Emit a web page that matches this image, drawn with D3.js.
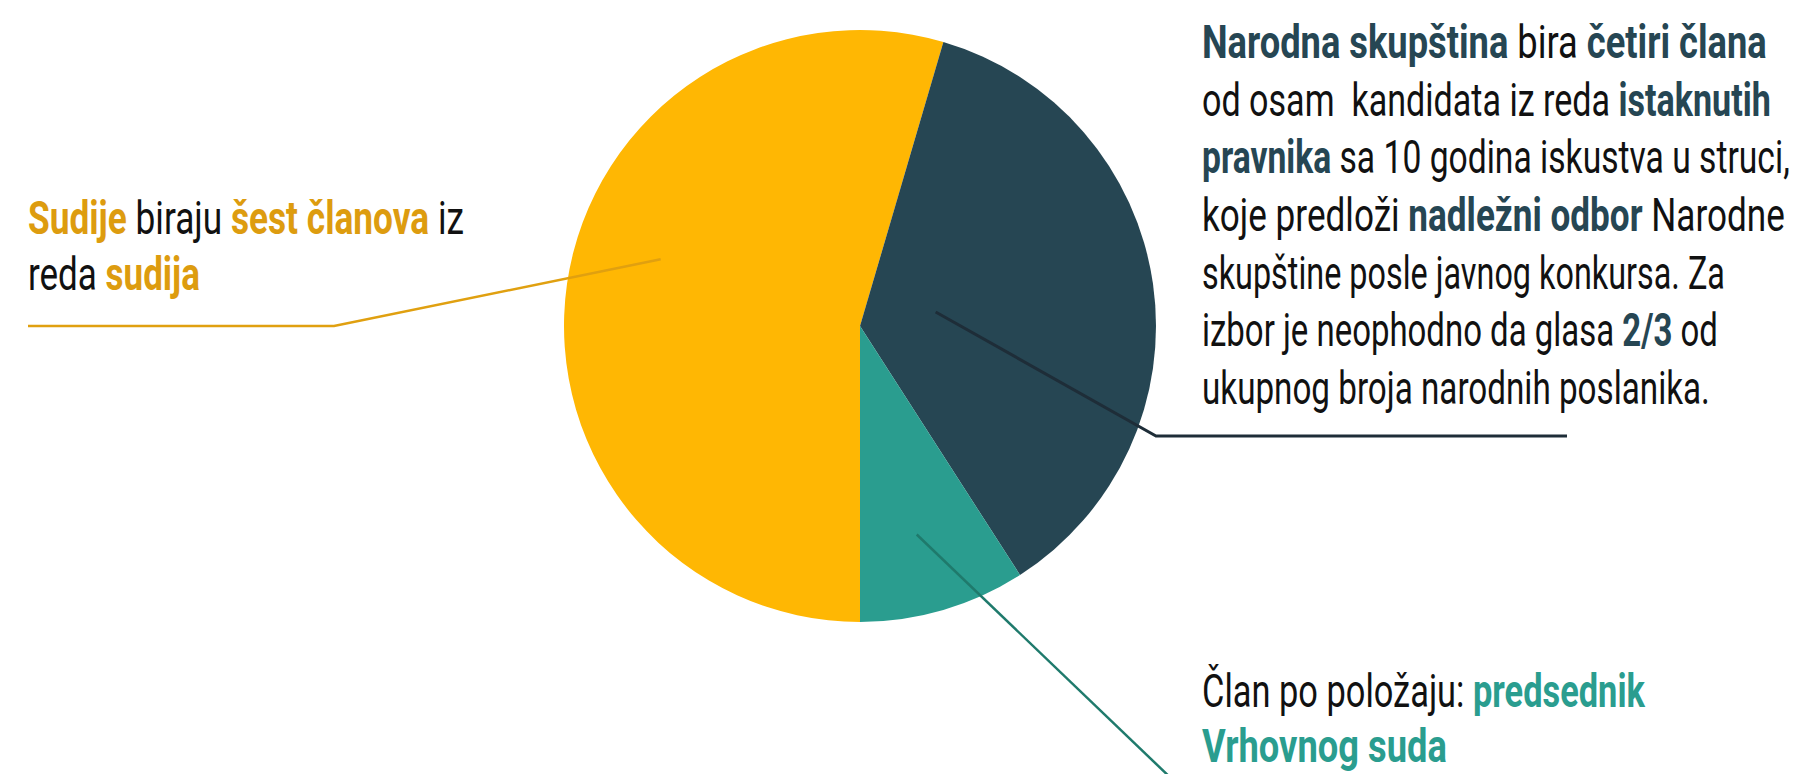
<!DOCTYPE html>
<html>
<head>
<meta charset="utf-8">
<script src="https://cdn.jsdelivr.net/npm/d3@7"></script>
<style>
  html, body { margin: 0; padding: 0; background: #fff; }
  svg { display: block; }
  text { font-family: Roboto, "Noto Sans", sans-serif; font-size: 46px; white-space: pre; }
</style>
</head>
<body>
<div class="chart"></div>
<script>
// members of the council by who elects them
const groups = ["Sudije", "Narodna skupština", "Predsednik Vrhovnog suda"];
const members = [6, 4, 1];
const colors = ["#FFB703", "#264653", "#2A9D8F"];
const textColors = ["#DD9C0F", "#264653", "#2A9D8F"];
const lineColors = ["#E0A010", "#1E2D38", "#1F7A6C"];

// label text, split into [text, highlighted]
const labels = [
  [
    [["Sudije", 1], [" biraju ", 0], ["šest članova", 1], [" iz", 0]],
    [["reda ", 0], ["sudija", 1]]
  ],
  [
    [["Narodna skupština", 1], [" bira ", 0], ["četiri člana", 1]],
    [["od osam  kandidata iz reda ", 0], ["istaknutih", 1]],
    [["pravnika", 1], [" sa 10 godina iskustva u struci,", 0]],
    [["koje predloži ", 0], ["nadležni odbor", 1], [" Narodne", 0]],
    [["skupštine posle javnog konkursa. Za", 0]],
    [["izbor je neophodno da glasa ", 0], ["2/3", 1], [" od", 0]],
    [["ukupnog broja narodnih poslanika.", 0]]
  ],
  [
    [["Član po položaju: ", 0], ["predsednik", 1]],
    [["Vrhovnog suda", 1]]
  ]
];

let createChart = function () {
  let width = 1794, height = 774;
  let cx = 860, cy = 326, radius = 296;

  let svg = d3.select(".chart")
    .append("svg")
    .attr("width", width)
    .attr("height", height);

  let pie = d3.pie()
    .sort(null)
    .startAngle(Math.PI)
    .endAngle(3 * Math.PI);

  let arc = d3.arc().innerRadius(0).outerRadius(radius);

  let arcs = pie(members);

  let g = svg.append("g").attr("transform", `translate(${cx},${cy})`);

  g.selectAll(".slice")
    .data(arcs)
    .enter().append("path")
    .attr("class", "slice")
    .attr("d", arc)
    .attr("fill", (d, i) => colors[i]);

  // leader lines: start inside the slice, elbow, then end
  let leaders = [
    {da: 0.18, k: 0.71, elbow: [334, 326], end: [28, 326]},
    {da: -0.04, k: 0.26, elbow: [1156, 436], end: [1567, 436]},
    {da: 0.02, k: 0.73, elbow: [1175, 782], end: [1175, 782]}
  ];

  leaders.forEach((l, i) => {
    let a = (arcs[i].startAngle + arcs[i].endAngle) / 2 + l.da;
    let p = d3.pointRadial(a, radius * l.k);
    let pts = [[cx + p[0], cy + p[1]], l.elbow, l.end];
    svg.append("path")
      .attr("d", d3.line()(pts))
      .attr("fill", "none")
      .attr("stroke", lineColors[i])
      .attr("stroke-width", i == 1 ? 3 : 2.5);
  });

  // text blocks, each line squeezed to the width it has in the original
  let blocks = [
    {x: 28, y: [234, 290], w: [436, 172]},
    {x: 1202, y: [58, 116, 173, 231, 289, 346, 404], w: [565, 569, 588, 583, 523, 516, 508]},
    {x: 1202, y: [707, 762], w: [443, 245]}
  ];

  blocks.forEach((b, i) => {
    labels[i].forEach((line, j) => {
      let t = svg.append("text");
      line.forEach(seg => {
        t.append("tspan")
          .text(seg[0])
          .attr("fill", seg[1] ? textColors[i] : "#111")
          .attr("font-weight", seg[1] ? 700 : 400);
      });
      let len = t.node().getComputedTextLength();
      t.attr("transform", `translate(${b.x},${b.y[j]}) scale(${b.w[j] / len},1)`);
    });
  });
};

createChart();
</script>
</body>
</html>
